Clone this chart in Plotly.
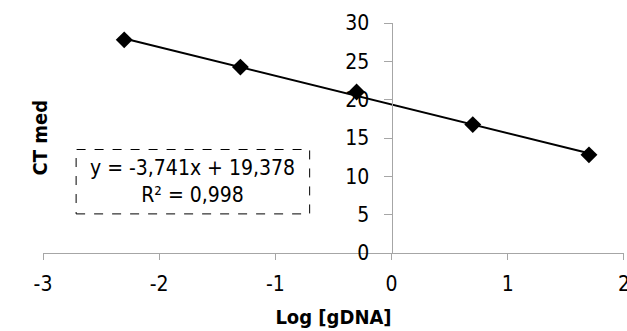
import plotly.graph_objects as go

log_gdna = [-2.301, -1.301, -0.301, 0.699, 1.699]
ct_med = [27.8, 24.25, 21.0, 16.75, 12.8]
slope = -3.741
intercept = 19.378
equation_text = "y = -3,741x + 19,378<br>R² = 0,998"
x_ticks = [-3, -2, -1, 0, 1, 2]
x_tick_labels = ["-3", "-2", "-1", "0", "1", "2"]
y_ticks = [0, 5, 10, 15, 20, 25, 30]

FONT = "DejaVu Sans Condensed, DejaVu Sans, sans-serif"

x0, x1 = min(log_gdna), max(log_gdna)
trend_x = [x0, x1]
trend_y = [slope * x0 + intercept, slope * x1 + intercept]

fig = go.Figure()
fig.add_trace(go.Scatter(x=trend_x, y=trend_y, mode="lines",
                         line=dict(color="black", width=2), showlegend=False, hoverinfo="skip"))
fig.add_trace(go.Scatter(x=log_gdna, y=ct_med, mode="markers",
                         marker=dict(symbol="diamond", size=13, color="black"), showlegend=False))

fig.add_shape(type="rect", xref="x", yref="y", x0=-2.715, x1=-0.705, y0=5.1, y1=13.5,
              line=dict(color="black", width=1, dash="dash"), fillcolor="white", layer="below")
fig.add_annotation(x=-1.71, y=9.3, xref="x", yref="y", text=equation_text, showarrow=False,
                   font=dict(family=FONT, size=21, color="black"), align="center")

fig.update_layout(
    width=627, height=331,
    margin=dict(l=43, r=3, t=23, b=78),
    paper_bgcolor="white", plot_bgcolor="white",
    font=dict(family=FONT, size=21, color="black"),
    xaxis=dict(range=[-3, 2.0005], tickvals=x_ticks, ticktext=x_tick_labels,
               showgrid=False, zeroline=False, automargin=False,
               showline=True, linecolor="#a6a6a6", linewidth=1,
               ticks="outside", ticklen=6, tickcolor="#a6a6a6",
               ticklabelstandoff=6, ticklabeloverflow="allow",
               title=dict(text="<b>Log [gDNA]</b>", font=dict(size=20), standoff=14)),
    yaxis=dict(range=[0, 30], tickvals=y_ticks, showgrid=False, zeroline=False,
               showline=True, linecolor="#a6a6a6", linewidth=1, automargin=False,
               ticks="outside", ticklen=8, tickcolor="#a6a6a6",
               anchor="free", position=0.6, ticklabelstandoff=10),
)
fig.add_annotation(x=-0.03, y=0.5, xref="paper", yref="paper", text="<b>CT med</b>",
                   textangle=-90, showarrow=False, font=dict(family=FONT, size=20, color="black"))

fig.write_html("out.html")
